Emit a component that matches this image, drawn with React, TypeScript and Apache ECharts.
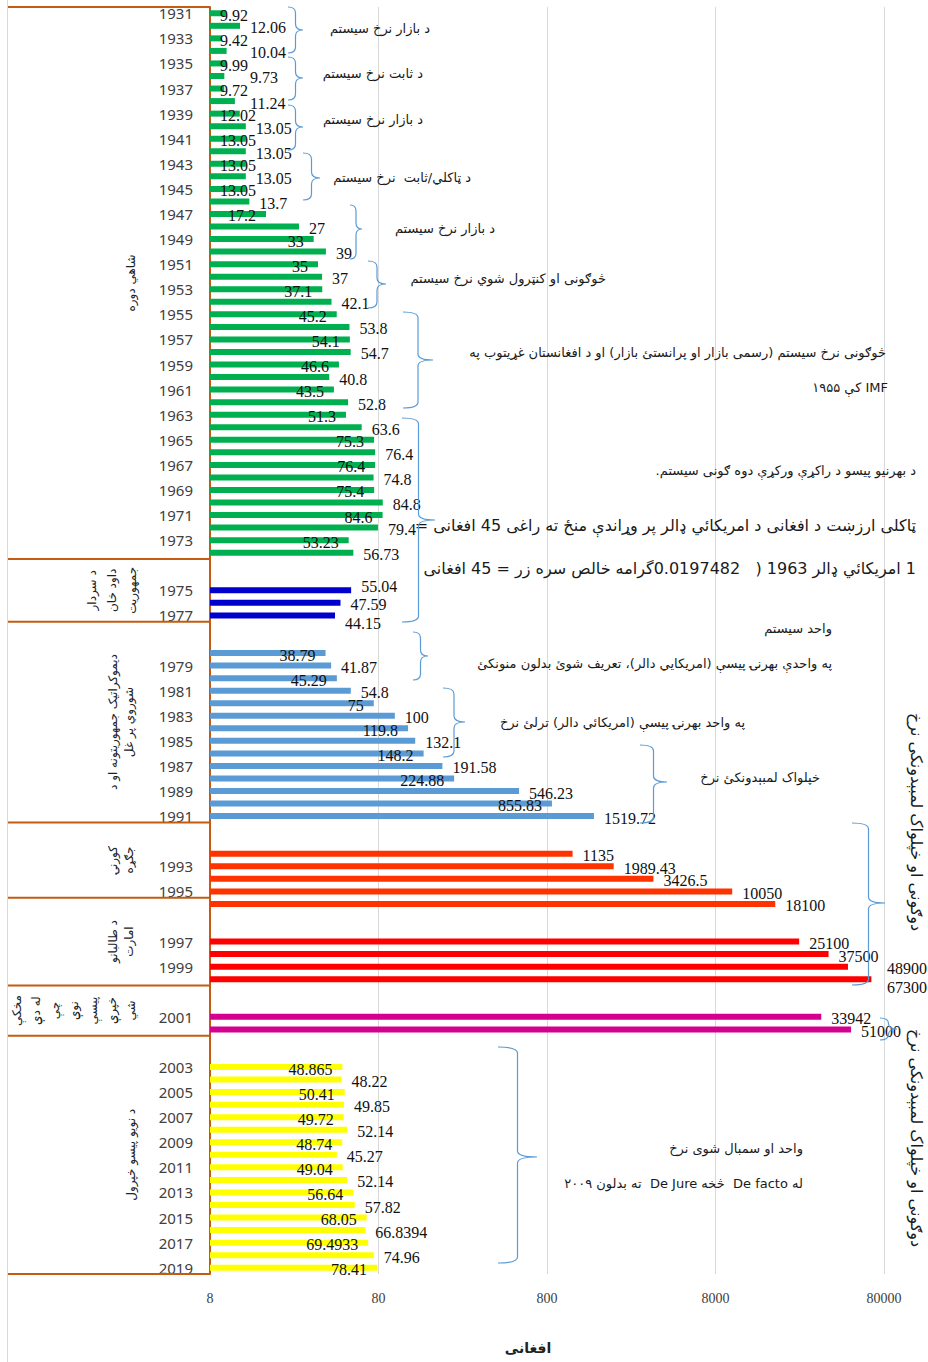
import React, { useEffect, useRef } from 'react';
import * as echarts from 'echarts';

// ---------------- DATA ----------------
const greenYears = [1931, 1932, 1933, 1934, 1935, 1936, 1937, 1938, 1939, 1940, 1941, 1942, 1943, 1944, 1945, 1946, 1947, 1948, 1949, 1950, 1951, 1952, 1953, 1954, 1955, 1956, 1957, 1958, 1959, 1960, 1961, 1962, 1963, 1964, 1965, 1966, 1967, 1968, 1969, 1970, 1971, 1972, 1973, 1974];
const greenValues = [9.92, 12.06, 9.42, 10.04, 9.99, 9.73, 9.72, 11.24, 12.02, 13.05, 13.05, 13.05, 13.05, 13.05, 13.05, 13.7, 17.2, 27, 33, 39, 35, 37, 37.1, 42.1, 45.2, 53.8, 54.1, 54.7, 46.6, 40.8, 43.5, 52.8, 51.3, 63.6, 75.3, 76.4, 76.4, 74.8, 75.4, 84.8, 84.6, 79.4, 53.23, 56.73];
const daoudYears = [1975, 1976, 1977];
const daoudValues = [55.04, 47.59, 44.15];
const sovietYears = [1978, 1979, 1980, 1981, 1982, 1983, 1984, 1985, 1986, 1987, 1988, 1989, 1990, 1991];
const sovietValues = [38.79, 41.87, 45.29, 54.8, 75, 100, 119.8, 132.1, 148.2, 191.58, 224.88, 546.23, 855.83, 1519.72];
const civilYears = [1992, 1993, 1994, 1995, 1996];
const civilValues = [1135, 1989.43, 3426.5, 10050, 18100];
const talibanYears = [1997, 1998, 1999, 2000];
const talibanValues = [25100, 37500, 48900, 67300];
const transitionYears = [2001, 2002];
const transitionValues = [33942, 51000];
const newCurrencyYears = [2003, 2004, 2005, 2006, 2007, 2008, 2009, 2010, 2011, 2012, 2013, 2014, 2015, 2016, 2017, 2018, 2019];
const newCurrencyValues = [48.865, 48.22, 50.41, 49.85, 49.72, 52.14, 48.74, 45.27, 49.04, 52.14, 56.64, 57.82, 68.05, 66.8394, 69.4933, 74.96, 78.41];

const xTickLabels = ['8', '80', '800', '8000', '80000'];
const xAxisTitle = 'افغانی';

const periodLabels = [
  ['شاهي دوره'],
  ['د سردار', 'داود خان', 'جمهوریت'],
  ['دیموکراتیک جمهوریتونه او د', 'شوروي پر غل'],
  ['کورنۍ', 'جګړه'],
  ['د طالبانو', 'امارت'],
  ['مخکې', 'له دې', 'چې', 'نوې', 'پیسې', 'خپرې', 'شي'],
  ['د نويو پيسو خپرول'],
];
const periodLastYears = [1974, 1977, 1991, 1995, 2000, 2002, 2019];

const noteTexts = [
  'د بازار نرخ سیستم',
  'د ثابت نرخ سیستم',
  'د بازار نرخ سیستم',
  'د ټاکلي/ثابت  نرخ سیستم',
  'د بازار نرخ سیستم',
  'څوګونی او کنټرول شوي نرخ سیستم',
  'څوګونی نرخ سیستم (رسمی بازار او پرانستئ بازار) او د افغانستان غړیتوب په',
  'IMF کې ۱۹۵۵',
  'د بهرنیو پیسو د راکړې ورکړې دوه ګونی سیستم.',
  'ټاکلی ارزښت د افغانی د امریکائي ډالر پر وړاندې منځ ته راغی 45 افغانی =',
  '1 امریکائي ډالر 1963 (   0.0197482گرامه خالص سره زر = 45 افغانی',
  'واحد سیستم',
  'په واحدې بهرنۍ پیسې (امریکایي دالر)، تعریف شوئ بدلون منونکئ',
  'په واحد بهرنۍ پیسې (امریکائي دالر) ترلئ نرخ',
  'خپلواک لمبېدونکئ نرخ',
  'واحد او سمبال شوی نرخ',
  'له De facto  څخه De Jure  ته بدلون ۲۰۰۹',
];
const sideTexts = ['دوګونی او خپلواک لمبېدونکی نرخ', 'دوګونی او خپلواک لمبېدونکی نرخ'];

// ---------------- LAYOUT / STYLE ----------------
const W = 928;
const H = 1362;
const GRID = { left: 210, right: 44, top: 7, bottom: 88 };
const ORANGE = '#c55a11';
const BRACE = '#5b9bd5';
const AR = '"DejaVu Sans", "Noto Sans", sans-serif';
const SERIF = '"Liberation Serif", "DejaVu Serif", serif';
const rtl = (s: string) => '\u202B' + s + '\u202C';
const MIN_OUT_LABEL_X = 40; // outside labels start at least this far from the axis

// label modes: 'alt' = alternate inside/outside, 'fan' = outside, spread vertically, 'edge' = last ones pushed to plot edge
const sections = [
  { years: greenYears, values: greenValues, gap: 0, color: '#00b050', mode: 'alt' },
  { years: daoudYears, values: daoudValues, gap: 2, color: '#0000cc', mode: 'fan' },
  { years: sovietYears, values: sovietValues, gap: 2, color: '#5b9bd5', mode: 'alt' },
  { years: civilYears, values: civilValues, gap: 2, color: '#ff3300', mode: 'out' },
  { years: talibanYears, values: talibanValues, gap: 2, color: '#ff0000', mode: 'edge' },
  { years: transitionYears, values: transitionValues, gap: 2, color: '#d4008f', mode: 'out' },
  { years: newCurrencyYears, values: newCurrencyValues, gap: 2, color: '#ffff00', mode: 'alt' },
];

// annotation layout: [text index, right x, center y, font size]
const notePlaces: [number, number, number, number][] = [
  [0, 430, 28, 13], [1, 423, 73, 13], [2, 423, 119, 13], [3, 471, 177, 13],
  [4, 495, 228, 13], [5, 606, 278, 13], [6, 886, 352, 13], [7, 888, 387, 13],
  [8, 916, 470, 13], [9, 916, 525, 16], [10, 916, 568, 16], [11, 832, 628, 13],
  [12, 832, 663, 13], [13, 745, 722, 13], [14, 820, 777, 13], [15, 803, 1148, 13],
  [16, 803, 1183, 13],
];
// braces: [curl x, tip x, top y, bottom y, tip y]
const braces: [number, number, number, number, number][] = [
  [288, 303, 7, 53, 30], [288, 303, 57, 100, 78], [288, 303, 105, 150, 127],
  [303, 320, 153, 200, 178], [350, 362, 205, 259, 229], [368, 386, 261, 308, 284],
  [403, 433, 312, 408, 360], [402, 435, 418, 622, 520], [413, 428, 632, 680, 656],
  [443, 465, 688, 757, 722], [640, 667, 745, 823, 782], [852, 885, 823, 985, 903],
  [880, 897, 1018, 1040, 1029], [498, 537, 1047, 1263, 1157],
];

function bracePath(x0: number, x1: number, y0: number, y1: number, ym: number) {
  const xm = (x0 + x1) / 2;
  const r = Math.min(6, (x1 - x0) / 2, (ym - y0) / 2, (y1 - ym) / 2);
  return `M${x0},${y0} Q${xm},${y0} ${xm},${y0 + r} L${xm},${ym - r} Q${xm},${ym} ${x1},${ym} ` +
    `Q${xm},${ym} ${xm},${ym + r} L${xm},${y1 - r} Q${xm},${y1} ${x0},${y1}`;
}

export default function App() {
  const ref = useRef<HTMLDivElement>(null);
  useEffect(() => {
    const el = ref.current;
    if (!el) return;
    const chart = echarts.init(el, null, { renderer: 'svg' });

    // build rows
    const categories: string[] = [];
    const rowOfYear: Record<number, number> = {};
    const sectionRows: number[][] = [];
    sections.forEach((s) => {
      for (let g = 0; g < s.gap; g++) categories.push('');
      const rows: number[] = [];
      s.years.forEach((y) => {
        rowOfYear[y] = categories.length;
        rows.push(categories.length);
        categories.push(String(y));
      });
      sectionRows.push(rows);
    });
    const nRows = categories.length;
    const plotW = W - GRID.left - GRID.right;
    const pxPerDecade = plotW / 4;
    const barLenOf = (v: number) => pxPerDecade * Math.log10(v / 8);

    const series = sections.map((s, si) => {
      const data: any[] = new Array(nRows).fill(null);
      s.values.forEach((v, k) => {
        const row = sectionRows[si][k];
        const outDist = Math.max(10, MIN_OUT_LABEL_X - barLenOf(v));
        let label: any;
        if (s.mode === 'alt' && k % 2 === 0) {
          const str = String(v);
          const w = str.replace('.', '').length * 8 + (str.includes('.') ? 4 : 0);
          label = barLenOf(v) >= w + 14
            ? { position: 'insideRight', distance: 10, offset: [0, 2] }
            : { position: 'insideLeft', distance: 10, offset: [0, 2] };
        } else if (s.mode === 'fan') {
          label = { position: 'right', distance: 10, offset: [0, -4 + 6 * k] };
        } else if (s.mode === 'edge' && k >= 2) {
          const d = Math.max(10, plotW + 3 - barLenOf(v));
          label = { position: 'right', distance: d, offset: [0, k === 3 ? 8 : 2] };
        } else {
          label = { position: 'right', distance: outDist, offset: [0, 2] };
        }
        data[row] = { value: v, label };
      });
      return {
        type: 'bar',
        name: 'p' + si,
        xAxisIndex: 0,
        yAxisIndex: 0,
        data,
        barWidth: 6,
        barGap: '-100%',
        itemStyle: { color: s.color },
        label: {
          show: true,
          formatter: (p: any) => String(p.value),
          color: '#111',
          fontFamily: SERIF,
          fontSize: 16,
        },
        clip: true,
      };
    });

    chart.setOption({
      animation: false,
      backgroundColor: '#ffffff',
      grid: { ...GRID, containLabel: false },
      xAxis: [
        { type: 'log', logBase: 10, min: 8, max: 80000, show: false, splitLine: { show: false } },
        {
          type: 'value', min: 0, max: 4, interval: 1, position: 'bottom',
          axisLine: { show: false }, axisTick: { show: false },
          splitLine: { show: true, lineStyle: { color: '#d9d9d9', width: 1 } },
          axisLabel: {
            margin: 17, color: '#404040', fontFamily: SERIF, fontSize: 14,
            formatter: (v: number) => xTickLabels[Math.round(v)] ?? '',
          },
        },
      ],
      yAxis: {
        type: 'category',
        data: categories,
        inverse: true,
        axisLine: { show: true, lineStyle: { color: ORANGE, width: 2 } },
        axisTick: { show: false },
        splitLine: { show: false },
        axisLabel: { interval: 1, margin: 17, fontSize: 15, fontFamily: '"Noto Sans", sans-serif', color: '#404040' },
      },
      series,
    });

    // --------- graphics (frame, period boxes, notes, braces) ---------
    let rowY = (i: number) => {
      const p = chart.convertToPixel({ yAxisIndex: 0 }, i) as any;
      return typeof p === 'number' ? p : NaN;
    };
    const step0 = (H - GRID.top - GRID.bottom) / nRows;
    if (!isFinite(rowY(0)) || !isFinite(rowY(1))) {
      rowY = (i: number) => GRID.top + (i + 0.5) * step0;
    }
    const step = rowY(1) - rowY(0);
    const bound = (i: number) => rowY(i) - step / 2;

    const elements: any[] = [];
    elements.push({ type: 'line', shape: { x1: 7.5, y1: 0, x2: 7.5, y2: H }, style: { stroke: '#d9d9d9', lineWidth: 1 }, z: 50 });

    let start = bound(0);
    elements.push({ type: 'line', shape: { x1: 8, y1: start, x2: GRID.left, y2: start }, style: { stroke: ORANGE, lineWidth: 2 }, z: 50 });
    periodLabels.forEach((lines, k) => {
      const end = bound(rowOfYear[periodLastYears[k]] + 1);
      elements.push({ type: 'line', shape: { x1: 8, y1: end, x2: GRID.left, y2: end }, style: { stroke: ORANGE, lineWidth: 2 }, z: 50 });
      const n = lines.length;
      const lh = n > 3 ? 19 : n === 3 ? 20 : 16;
      elements.push({
        type: 'text',
        x: 140 - 9.5 * n,
        y: (start + end) / 2,
        rotation: Math.PI / 2,
        z: 50,
        style: {
          text: lines.join('\n'),
          fill: '#222',
          fontSize: 12,
          fontFamily: AR,
          lineHeight: lh,
          align: 'center', textAlign: 'center',
          verticalAlign: 'middle', textVerticalAlign: 'middle',
        },
      });
      start = end;
    });

    notePlaces.forEach(([ti, x, y, fs]) => {
      elements.push({
        type: 'text', x, y, z: 50,
        style: {
          text: rtl(noteTexts[ti]), fill: '#1a1a1a', fontSize: fs, fontFamily: AR,
          align: 'right', textAlign: 'right', verticalAlign: 'middle', textVerticalAlign: 'middle',
        },
      });
    });

    [[916, 822], [916, 1138]].forEach(([x, y], i) => {
      elements.push({
        type: 'text', x, y, z: 50, rotation: -Math.PI / 2,
        style: {
          text: sideTexts[i], fill: '#1a1a1a', fontSize: 16, fontFamily: AR,
          align: 'center', textAlign: 'center', verticalAlign: 'middle', textVerticalAlign: 'middle',
        },
      });
    });

    braces.forEach((b, i) => {
      const name = 'brace' + i;
      echarts.graphic.registerShape(name, echarts.graphic.extendPath(bracePath(...b), {}) as any);
      elements.push({ type: name, x: 0, y: 0, z: 50, style: { stroke: BRACE, fill: 'none', lineWidth: 1.2 } });
    });

    elements.push({
      type: 'text', x: 528, y: 1348, z: 50,
      style: {
        text: xAxisTitle, fill: '#222', fontSize: 14, fontWeight: 'bold', fontFamily: AR,
        align: 'center', textAlign: 'center', verticalAlign: 'middle', textVerticalAlign: 'middle',
      },
    });

    chart.setOption({ graphic: { elements } });

    return () => chart.dispose();
  }, []);

  return <div ref={ref} style={{ position: 'absolute', left: 0, top: 0, width: W, height: H }} />;
}
